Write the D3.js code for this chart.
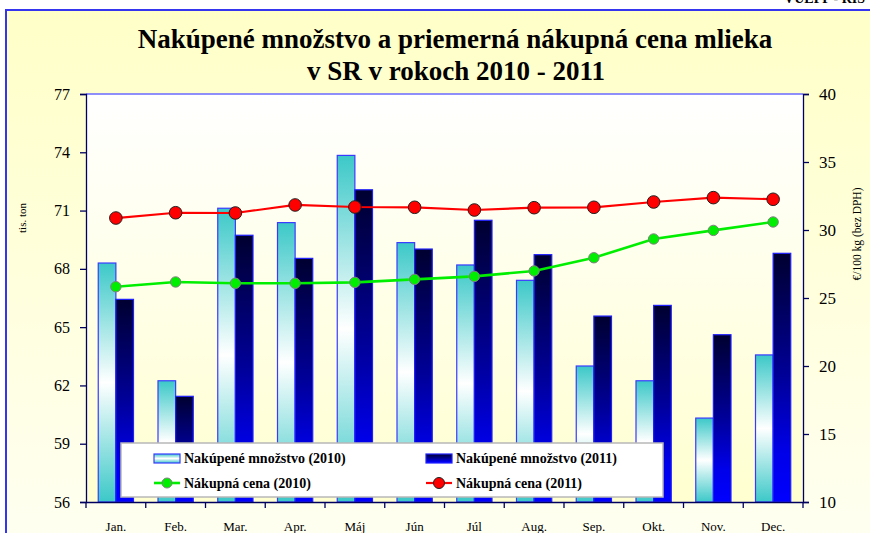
<html>
<head>
<meta charset="utf-8">
<title>Nakúpené množstvo a cena mlieka</title>
<script src="https://d3js.org/d3.v7.min.js"></script>
<style>
body { margin: 0; background: #fff; }
text { font-family: "Liberation Serif", "Times New Roman", serif; }
.axis path, .axis line { stroke: #000060; stroke-width: 1.3; fill: none; }
.axis text { fill: #000; }
</style>
</head>
<body>
<div id="vis_container"></div>
<script>
    // months and values
    var months = ["Jan.", "Feb.", "Mar.", "Apr.", "Máj", "Jún", "Júl", "Aug.", "Sep.", "Okt.", "Nov.", "Dec."];
    var qty2010 = [68.3, 62.24, 71.12, 70.38, 73.84, 69.35, 68.2, 67.41, 63.0, 62.24, 60.32, 63.57];
    var qty2011 = [66.43, 61.44, 69.73, 68.54, 72.07, 69.02, 70.5, 68.73, 65.57, 66.12, 64.61, 68.8];
    var price2010 = [25.83, 26.18, 26.08, 26.08, 26.15, 26.37, 26.59, 26.99, 27.96, 29.34, 29.97, 30.59];
    var price2011 = [30.88, 31.27, 31.25, 31.84, 31.69, 31.67, 31.47, 31.64, 31.67, 32.06, 32.38, 32.26];
    var leftTicks = [56, 59, 62, 65, 68, 71, 74, 77];
    var rightTicks = [10, 15, 20, 25, 30, 35, 40];
    var legendItems = [
        {label: "Nakúpené množstvo (2010)", kind: "bar10"},
        {label: "Nakúpené množstvo (2011)", kind: "bar11"},
        {label: "Nákupná cena (2010)", kind: "line10"},
        {label: "Nákupná cena (2011)", kind: "line11"}
    ];

    var width = 870, height = 533;
    var plotLeft = 86, plotRight = 803, plotTop = 94, plotBottom = 502;

    var svg = d3.select("#vis_container")
        .append("svg")
        .attr("width", width)
        .attr("height", height);

    var defs = svg.append("defs");

    var g = defs.append("linearGradient").attr("id", "outerBg")
        .attr("x1", 0).attr("y1", 0).attr("x2", 0).attr("y2", 1);
    g.append("stop").attr("offset", "0%").attr("stop-color", "#ffffc8");
    g.append("stop").attr("offset", "100%").attr("stop-color", "#fffff2");

    g = defs.append("linearGradient").attr("id", "plotBg")
        .attr("x1", 0).attr("y1", 0).attr("x2", 0).attr("y2", 1);
    g.append("stop").attr("offset", "0%").attr("stop-color", "#ffffff");
    g.append("stop").attr("offset", "100%").attr("stop-color", "#ffffd0");

    g = defs.append("linearGradient").attr("id", "bar10")
        .attr("x1", 0).attr("y1", 0).attr("x2", 0).attr("y2", 1);
    g.append("stop").attr("offset", "0%").attr("stop-color", "#3cc8c8");
    g.append("stop").attr("offset", "50%").attr("stop-color", "#ffffff");
    g.append("stop").attr("offset", "100%").attr("stop-color", "#3cc8c8");

    g = defs.append("linearGradient").attr("id", "bar11")
        .attr("x1", 0).attr("y1", 0).attr("x2", 0).attr("y2", 1);
    g.append("stop").attr("offset", "0%").attr("stop-color", "#000030");
    g.append("stop").attr("offset", "50%").attr("stop-color", "#00009a");
    g.append("stop").attr("offset", "80%").attr("stop-color", "#0000e8");
    g.append("stop").attr("offset", "100%").attr("stop-color", "#0000ff");

    // outer frame
    svg.append("rect")
        .attr("x", 6).attr("y", 10)
        .attr("width", width + 10).attr("height", height + 10)
        .attr("fill", "url(#outerBg)")
        .attr("stroke", "#3535f0")
        .attr("stroke-width", 2);

    svg.append("text")
        .attr("x", 865).attr("y", 3)
        .attr("text-anchor", "end")
        .style("font-size", "14px").style("font-weight", "bold")
        .text("VÚEPP - RIS");

    // title
    svg.append("text")
        .attr("x", 455).attr("y", 48)
        .attr("text-anchor", "middle")
        .style("font-size", "27px").style("font-weight", "bold")
        .text("Nakúpené množstvo a priemerná nákupná cena mlieka");
    svg.append("text")
        .attr("x", 456).attr("y", 80)
        .attr("text-anchor", "middle")
        .style("font-size", "27px").style("font-weight", "bold")
        .text("v SR v rokoch 2010 - 2011");

    // scales
    var x = d3.scaleBand().domain(months).range([plotLeft, plotRight]);
    var yL = d3.scaleLinear().domain([56, 77]).range([plotBottom, plotTop]);
    var yR = d3.scaleLinear().domain([10, 40]).range([plotBottom, plotTop]);
    var barW = x.bandwidth() * 0.295;
    var off = (x.bandwidth() - 2 * barW) / 2;

    svg.append("rect")
        .attr("x", plotLeft).attr("y", plotTop)
        .attr("width", plotRight - plotLeft).attr("height", plotBottom - plotTop)
        .attr("fill", "url(#plotBg)");
    svg.append("line")
        .attr("x1", plotLeft).attr("x2", plotRight).attr("y1", plotTop).attr("y2", plotTop)
        .attr("stroke", "#6a6aff").attr("stroke-width", 1.3);

    // bars
    svg.selectAll("rect.b10")
        .data(qty2010)
        .enter()
        .append("rect")
        .attr("class", "b10")
        .attr("x", function(d, i) { return x(months[i]) + off; })
        .attr("y", function(d) { return yL(d); })
        .attr("width", barW)
        .attr("height", function(d) { return plotBottom - yL(d); })
        .attr("fill", "url(#bar10)")
        .attr("stroke", "#3a3aff")
        .attr("stroke-width", 1.2);

    svg.selectAll("rect.b11")
        .data(qty2011)
        .enter()
        .append("rect")
        .attr("class", "b11")
        .attr("x", function(d, i) { return x(months[i]) + off + barW; })
        .attr("y", function(d) { return yL(d); })
        .attr("width", barW)
        .attr("height", function(d) { return plotBottom - yL(d); })
        .attr("fill", "url(#bar11)")
        .attr("stroke", "#2020ff")
        .attr("stroke-width", 1.2);

    // price lines
    var line = d3.line()
        .x(function(d, i) { return x(months[i]) + x.bandwidth() / 2; })
        .y(function(d) { return yR(d); });

    svg.append("path").datum(price2010)
        .attr("d", line).attr("fill", "none")
        .attr("stroke", "#00ee00").attr("stroke-width", 2.6);
    svg.append("path").datum(price2011)
        .attr("d", line).attr("fill", "none")
        .attr("stroke", "#ff0000").attr("stroke-width", 2.2);

    svg.selectAll("circle.p10")
        .data(price2010)
        .enter()
        .append("circle")
        .attr("cx", function(d, i) { return x(months[i]) + x.bandwidth() / 2; })
        .attr("cy", function(d) { return yR(d); })
        .attr("r", 5.2)
        .attr("fill", "#00ee00")
        .attr("stroke", "#808080").attr("stroke-width", 1);

    svg.selectAll("circle.p11")
        .data(price2011)
        .enter()
        .append("circle")
        .attr("cx", function(d, i) { return x(months[i]) + x.bandwidth() / 2; })
        .attr("cy", function(d) { return yR(d); })
        .attr("r", 6.3)
        .attr("fill", "#ff0000")
        .attr("stroke", "#202020").attr("stroke-width", 1);

    // axes
    svg.append("g")
        .attr("class", "axis")
        .attr("transform", "translate(" + plotLeft + ",0)")
        .call(d3.axisLeft(yL).tickValues(leftTicks).tickSize(6).tickPadding(10))
        .selectAll("text")
        .style("font-size", "16px");

    svg.append("g")
        .attr("class", "axis")
        .attr("transform", "translate(" + plotRight + ",0)")
        .call(d3.axisRight(yR).tickValues(rightTicks).tickSize(6).tickPadding(10))
        .selectAll("text")
        .style("font-size", "17px");

    var xAxis = svg.append("g")
        .attr("class", "axis")
        .attr("transform", "translate(0," + plotBottom + ")")
        .call(d3.axisBottom(x).tickSize(0).tickPadding(20));
    xAxis.selectAll("text").style("font-size", "13px");
    xAxis.selectAll("line.sep")
        .data(d3.range(months.length + 1))
        .enter()
        .append("line")
        .attr("class", "sep")
        .attr("x1", function(i) { return plotLeft + i * x.step(); })
        .attr("x2", function(i) { return plotLeft + i * x.step(); })
        .attr("y1", 0).attr("y2", 6);

    // axis titles
    svg.append("text")
        .attr("transform", "translate(26,218) rotate(-90)")
        .attr("text-anchor", "middle")
        .style("font-size", "11px")
        .text("tis. ton");
    svg.append("text")
        .attr("transform", "translate(861,234) rotate(-90)")
        .attr("text-anchor", "middle")
        .style("font-size", "11.5px")
        .text("€/100 kg (bez DPH)");

    // legend
    var lg = svg.append("g");
    lg.append("rect")
        .attr("x", 121).attr("y", 443)
        .attr("width", 542).attr("height", 54)
        .attr("fill", "#fff")
        .attr("stroke", "#b8b8b8").attr("stroke-width", 1.5);

    var item = lg.selectAll("g.item")
        .data(legendItems)
        .enter()
        .append("g")
        .attr("class", "item")
        .attr("transform", function(d, i) {
            return "translate(" + (i % 2 === 0 ? 154 : 426) + "," + (i < 2 ? 458 : 483) + ")";
        });

    item.filter(function(d) { return d.kind === "bar10"; })
        .append("rect")
        .attr("x", 0).attr("y", -4).attr("width", 26).attr("height", 9)
        .attr("fill", "url(#bar10)").attr("stroke", "#3a3aff").attr("stroke-width", 1.2);
    item.filter(function(d) { return d.kind === "bar11"; })
        .append("rect")
        .attr("x", 0).attr("y", -4).attr("width", 26).attr("height", 9)
        .attr("fill", "url(#bar11)").attr("stroke", "#2020ff").attr("stroke-width", 1.2);

    var l10 = item.filter(function(d) { return d.kind === "line10"; });
    l10.append("line").attr("x1", 0).attr("x2", 26).attr("y1", 0).attr("y2", 0)
        .attr("stroke", "#00ee00").attr("stroke-width", 2.6);
    l10.append("circle").attr("cx", 13).attr("cy", 0).attr("r", 5)
        .attr("fill", "#00ee00").attr("stroke", "#808080");

    var l11 = item.filter(function(d) { return d.kind === "line11"; });
    l11.append("line").attr("x1", 0).attr("x2", 26).attr("y1", 0).attr("y2", 0)
        .attr("stroke", "#ff0000").attr("stroke-width", 2.2);
    l11.append("circle").attr("cx", 13).attr("cy", 0).attr("r", 5.5)
        .attr("fill", "#ff0000").attr("stroke", "#202020");

    item.append("text")
        .attr("x", 30).attr("y", 5)
        .style("font-size", "14px").style("font-weight", "bold")
        .text(function(d) { return d.label; });
</script>
</body>
</html>
